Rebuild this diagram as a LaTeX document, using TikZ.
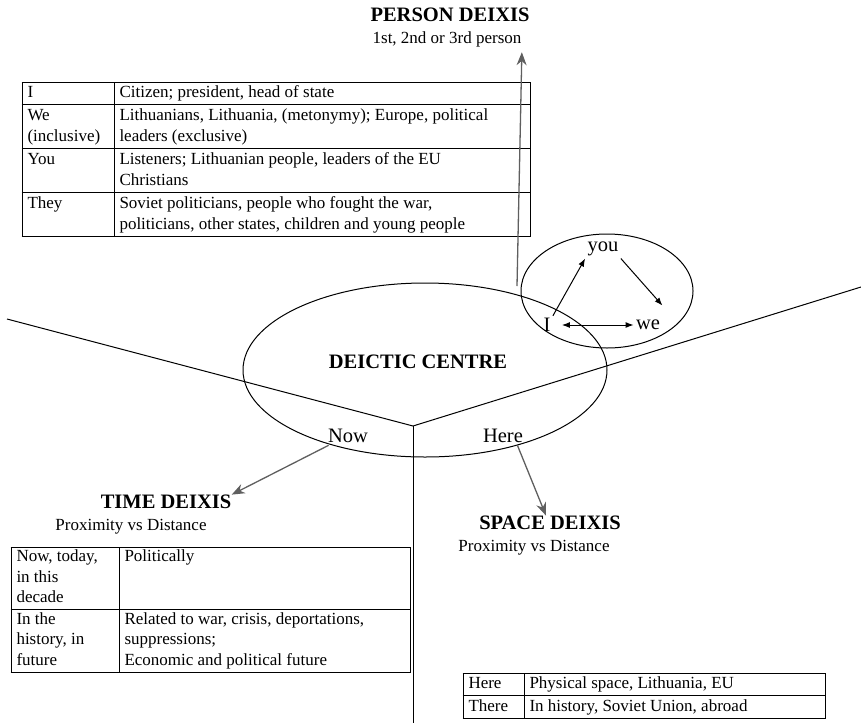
\documentclass[tikz,border=0pt]{standalone}
\usepackage{fontspec}
\setmainfont{Liberation Serif}
\usepackage{array}
\usetikzlibrary{arrows.meta,shapes.geometric}
\definecolor{xgray}{RGB}{95,95,95}
\setlength{\arrayrulewidth}{1pt}
\setlength{\tabcolsep}{5pt}

\begin{document}
\begin{tikzpicture}[x=1pt, y=1pt, line width=1pt,
  title/.style={font=\fontsize{20.5}{24}\selectfont\bfseries, inner sep=0pt},
  sub/.style={font=\fontsize{17}{21}\selectfont, inner sep=0pt},
  word/.style={font=\fontsize{20.5}{24}\selectfont, inner sep=2pt},
  tbl/.style={inner sep=0pt, anchor=north west},
  garrow/.style={draw=xgray, line width=1.3pt, -{Stealth[length=13pt,width=10pt]}},
  sarrow/.style={-{Latex[length=8pt,width=6pt]}}]
\useasboundingbox (0,0) rectangle (861,-723);

% the three dividing lines
\coordinate (mid) at (413,-426);
\coordinate (lend) at (7,-319);
\coordinate (rend) at (861,-287);
\coordinate (bend) at (413,-723);
\draw (lend) -- (mid) -- (rend);
\draw (mid) -- (bend);

% deictic centre
\node[draw, ellipse, minimum width=364pt, minimum height=174pt] at (425,-370) (centre) {};
\node[title] at (418,-362) (centrelbl) {DEICTIC CENTRE};
\node[word] at (348,-436) (now) {Now};
\node[word] at (503,-436) (here) {Here};

% person ellipse
\node[draw, ellipse, minimum width=172pt, minimum height=114pt] at (607,-291) (persons) {};
\node[word] at (603,-249) (you) {you};
\node[word] at (547,-325) (I) {I};
\node[word] at (648,-325) (we) {we};
\draw[sarrow] (I.north east) -- (you.south west);
\draw[sarrow] (you.south east) -- ([yshift=12pt]we.north east);
\draw[{Latex[length=8pt,width=6pt]}-{Latex[length=8pt,width=6pt]}] ([xshift=9pt]I.east) -- (we.west);

% person deixis
\node[title] at (450,-15) (persontitle) {PERSON DEIXIS};
\node[sub] at (447,-39) (personsub) {1st, 2nd or 3rd person};
\node[tbl, font=\fontsize{17}{21.5}\selectfont] at (21,-81) (persontab) {%
\begin{tabular}{|p{81pt}|p{405pt}|}\hline
I & Citizen; president, head of state\\\hline
We\newline (inclusive) & Lithuanians, Lithuania, (metonymy); Europe, political\newline leaders (exclusive)\\\hline
You & Listeners; Lithuanian people, leaders of the EU\newline Christians\\\hline
They & Soviet politicians, people who fought the war,\newline politicians, other states, children and young people\\\hline
\end{tabular}};
\coordinate (pfoot) at (517,-286);
\draw[garrow] (pfoot) -- ([yshift=-5pt]personsub.south east);

% time deixis
\node[title] at (166,-502) (timetitle) {TIME DEIXIS};
\node[sub] at (131,-527) (timesub) {Proximity vs Distance};
\node[tbl, font=\fontsize{17}{20.5}\selectfont] at (10,-546) (timetab) {%
\begin{tabular}{|p{97pt}|p{280pt}|}\hline
Now, today,\newline in this\newline decade & Politically\\\hline
In the\newline history, in\newline future & Related to war, crisis, deportations,\newline suppressions;\newline Economic and political future\\\hline
\end{tabular}};
\draw[garrow] ([xshift=3pt]now.south west) -- (timetitle.north east);

% space deixis
\node[title] at (550,-523) (spacetitle) {SPACE DEIXIS};
\node[sub] at (534,-548) (spacesub) {Proximity vs Distance};
\node[tbl, font=\fontsize{17}{21.5}\selectfont] at (462,-672) (spacetab) {%
\begin{tabular}{|p{50pt}|p{290pt}|}\hline
Here & Physical space, Lithuania, EU\\\hline
There & In history, Soviet Union, abroad\\\hline
\end{tabular}};
\draw[garrow] ([xshift=-8pt]here.south east) -- ([xshift=-4pt]spacetitle.north);
\end{tikzpicture}
\end{document}
